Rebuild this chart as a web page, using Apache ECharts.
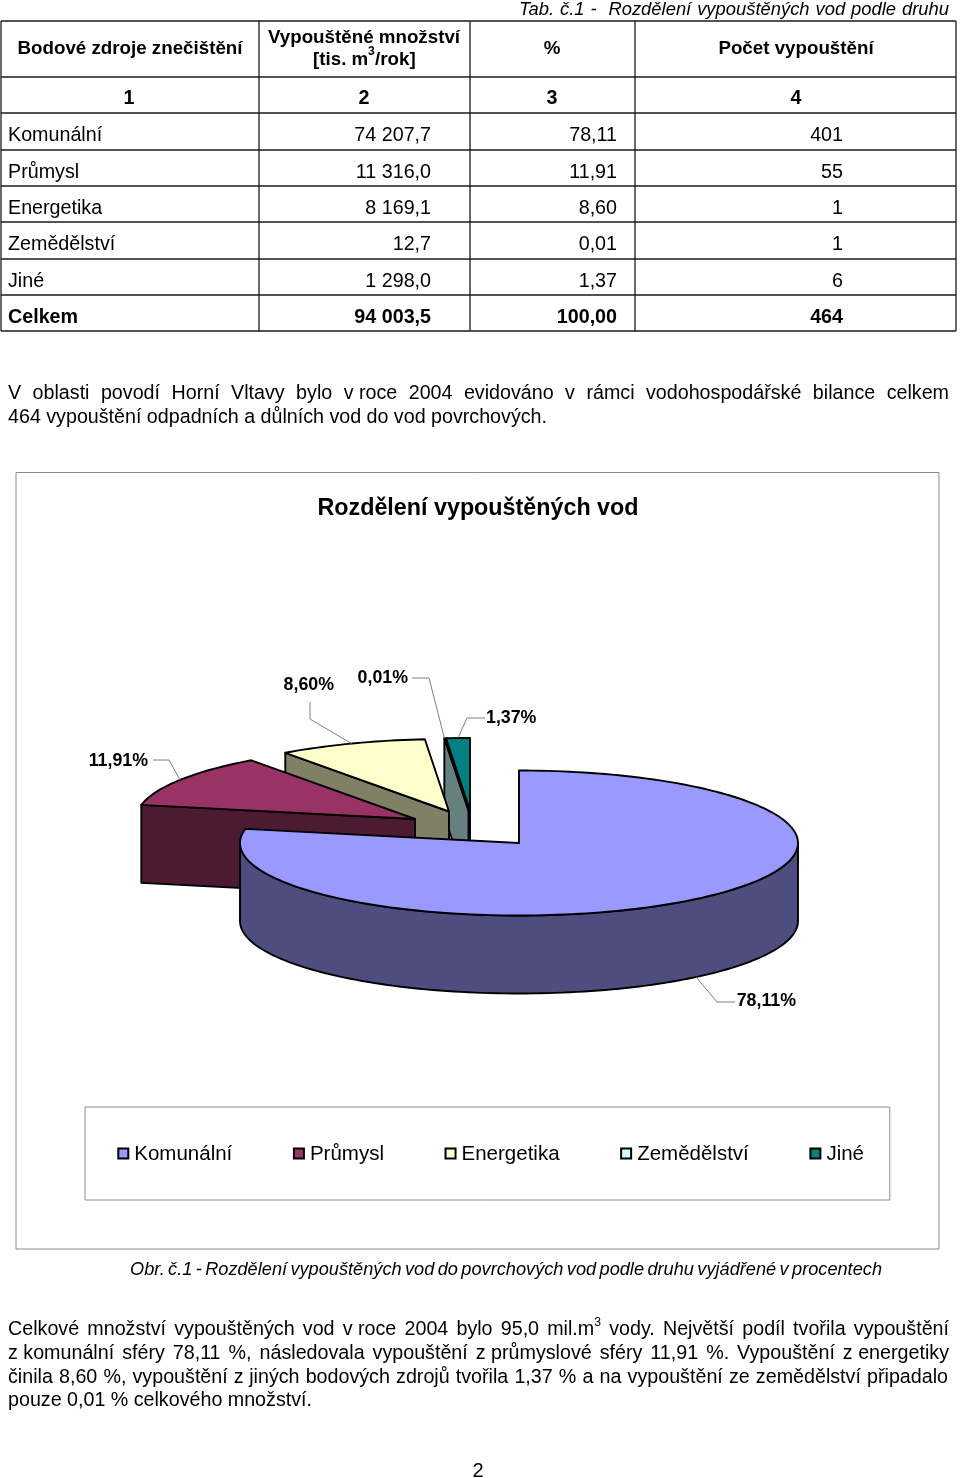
<!DOCTYPE html>
<html><head><meta charset="utf-8">
<style>html,body{margin:0;padding:0;background:#fff}#c{width:960px;height:1478px}</style>
<script src="https://cdn.jsdelivr.net/npm/echarts@6/dist/echarts.min.js"></script>
</head><body><div id="c"></div>
<script>
// ---- data ----
const categories = ['Komunální', 'Průmysl', 'Energetika', 'Zemědělství', 'Jiné'];
const amounts = ['74 207,7', '11 316,0', '8 169,1', '12,7', '1 298,0'];
const percents = [78.11, 11.91, 8.60, 0.01, 1.37];
const counts = [401, 55, 1, 1, 6];
const totals = ['Celkem', '94 003,5', '100,00', '464'];
const headers = ['Bodové zdroje znečištění', 'Vypouštěné množství', '%', 'Počet vypouštění'];
const columnNumbers = ['1', '2', '3', '4'];
const chartTitle = 'Rozdělení vypouštěných vod';
const tableCaption = 'Tab. č.1 -  Rozdělení vypouštěných vod podle druhu';
const figureCaption = 'Obr. č.1 - Rozdělení vypouštěných vod do povrchových vod podle druhu vyjádřené v procentech';
const para1 = ['V oblasti povodí Horní Vltavy bylo v\u00a0roce 2004 evidováno v rámci vodohospodářské bilance celkem',
  '464 vypouštění odpadních a důlních vod do vod povrchových.'];
const para2 = ['Celkové množství vypouštěných vod v\u00a0roce 2004 bylo 95,0 mil.m^3 vody. Největší podíl tvořila vypouštění',
  'z\u00a0komunální sféry 78,11 %, následovala vypouštění z\u00a0průmyslové sféry 11,91 %. Vypouštění z\u00a0energetiky',
  'činila 8,60 %, vypouštění z\u00a0jiných bodových zdrojů tvořila 1,37 % a na vypouštění ze zemědělství připadalo',
  'pouze 0,01 % celkového množství.'];

// ---- style / layout ----
const FONT = '"Liberation Sans", Arial, sans-serif';
const topColors = ['#9999FF', '#993366', '#FFFFCC', '#CCFFFF', '#008080'];
const sideColors = ['#4D4D80', '#4D1A33', '#808066', '#668080', '#004040'];
const PIE = { cx: 519, cy: 842.5, rx: 279, ry: 72.5, depth: 78 };
const explode = [[0, 0.5], [-104, -23.5], [-70, -31], [-50.5, -32], [-49, -32]];
// label: [text x, text y, align, elbow points from the text towards the slice]
const labelLayout = [
  [796, 1001, 'right', [[735, 1002], [717, 1002]], true],
  [148, 761, 'right', [[153, 760], [169, 760]]],
  [334, 685, 'right', [[310, 702], [310, 719]]],
  [408, 678, 'right', [[412, 678], [429, 678]]],
  [486, 718, 'left', [[485, 718], [467, 718]]]
];
const TEXT_DY = 2;
const ctx = document.createElement('canvas').getContext('2d');
function fontStr(size, o) { o = o || {}; return (o.italic ? 'italic ' : '') + (o.bold ? 'bold ' : '') + size + 'px ' + FONT; }
function width(s, size, o) { ctx.font = fontStr(size, o); return ctx.measureText(s).width; }
function T(text, x, y, size, o) {
  o = o || {};
  return { type: 'text', x: x, y: y + TEXT_DY, z: 10, style: {
    text: text, fill: '#000', fontSize: size, fontFamily: FONT,
    fontWeight: o.bold ? 'bold' : 'normal', fontStyle: o.italic ? 'italic' : 'normal',
    align: o.align || 'left', textAlign: o.align || 'left',
    verticalAlign: 'middle', textVerticalAlign: 'middle' } };
}
function L(x1, y1, x2, y2, color, w) {
  return { type: 'line', z: 5, shape: { x1, y1, x2, y2 }, style: { stroke: color || '#1a1a1a', lineWidth: w || 1.3 } };
}
// one line of justified text; x2 null = natural word spacing
function textLine(line, x1, x2, y, size, o) {
  const toks = line.split(' ');
  const w = toks.map(t => {
    const p = t.split('^');
    return width(p[0], size, o) + (p[1] ? width(p[1], size * 0.62, o) : 0);
  });
  const sum = w.reduce((a, b) => a + b, 0);
  const gap = x2 == null ? width(' ', size, o) : (x2 - x1 - sum) / (toks.length - 1);
  const out = []; let x = x1;
  toks.forEach((t, i) => {
    const p = t.split('^');
    out.push(T(p[0], x, y, size, o));
    if (p[1]) out.push(T(p[1], x + width(p[0], size, o), y - 7, size * 0.62, o));
    x += w[i] + gap;
  });
  return out;
}

// ---- page graphics: table and paragraphs ----
const g = [];
const rowY = [21, 77, 113, 150, 186, 222, 259, 295, 331];
const colX = [1, 259, 470, 635, 956];
rowY.forEach(y => g.push(L(colX[0], y, colX[4], y)));
colX.forEach(x => g.push(L(x, rowY[0], x, rowY[8])));
const S = 19.7, HB = 18.75;
g.push(...textLine(tableCaption, 519, 949, 8, 18.4, { italic: true }));
g.push(T(headers[0], 130, 47, HB, { bold: true, align: 'center' }));
g.push(T(headers[1], 364, 36, HB, { bold: true, align: 'center' }));
g.push(T('[tis. m', 313, 58, HB, { bold: true }));
g.push(T('3', 368, 50, 12, { bold: true }));
g.push(T('/rok]', 375, 58, HB, { bold: true }));
g.push(T(headers[2], 552, 47, HB, { bold: true, align: 'center' }));
g.push(T(headers[3], 796, 47, HB, { bold: true, align: 'center' }));
const colC = [129, 364, 552, 796];
columnNumbers.forEach((n, i) => g.push(T(n, colC[i], 97, S, { bold: true, align: 'center' })));
const rowC = [134, 171, 207, 243, 280, 316];
categories.forEach((c, i) => {
  g.push(T(c, 8, rowC[i], S));
  g.push(T(amounts[i], 431, rowC[i], S, { align: 'right' }));
  g.push(T(percents[i].toFixed(2).replace('.', ','), 617, rowC[i], S, { align: 'right' }));
  g.push(T(String(counts[i]), 843, rowC[i], S, { align: 'right' }));
});
g.push(T(totals[0], 8, rowC[5], S, { bold: true }));
g.push(T(totals[1], 431, rowC[5], S, { bold: true, align: 'right' }));
g.push(T(totals[2], 617, rowC[5], S, { bold: true, align: 'right' }));
g.push(T(totals[3], 843, rowC[5], S, { bold: true, align: 'right' }));

g.push(...textLine(para1[0], 8, 949, 392, S));
g.push(...textLine(para1[1], 8, 547, 416, S));
g.push({ type: 'rect', z: 1, shape: { x: 16, y: 472.5, width: 923, height: 776.5 }, style: { fill: 'none', stroke: '#8c8c8c', lineWidth: 1 } });
g.push(...textLine(figureCaption, 130, 882, 1268, 18.2, { italic: true }));
g.push(...textLine(para2[0], 8, 949, 1328, S));
g.push(...textLine(para2[1], 8, 949, 1352, S));
g.push(...textLine(para2[2], 8, 948, 1376, S));
g.push(...textLine(para2[3], 8, 312, 1399, S));
g.push(T('2', 478, 1469, 20, { align: 'center' }));

// ---- 3D pie through a custom series ----
const total = percents.reduce((a, b) => a + b, 0);
const startAngle = []; let acc = 0;
percents.forEach(p => { startAngle.push(acc); acc += p / total * 360; });
function pt(c, deg, dy) {
  const r = deg * Math.PI / 180;
  return [c[0] + PIE.rx * Math.sin(r), c[1] - PIE.ry * Math.cos(r) + (dy || 0)];
}
function arc(c, a, b, dy) {
  const n = Math.max(2, Math.ceil(Math.abs(b - a) / 1.5)), out = [];
  for (let k = 0; k <= n; k++) out.push(pt(c, a + (b - a) * k / n, dy));
  return out;
}
function poly(points, fill) {
  return { type: 'polygon', shape: { points }, style: { fill, stroke: '#000', lineWidth: 1.9, lineJoin: 'round' } };
}
function renderSlice(params, api) {
  const i = params.seriesIndex;
  const a0 = startAngle[i], a1 = a0 + api.value(0) / total * 360, mid = (a0 + a1) / 2;
  const c = [PIE.cx + explode[i][0], PIE.cy + explode[i][1]], d = PIE.depth;
  const ch = [];
  const face = deg => { const o = pt(c, deg); return [c, o, [o[0], o[1] + d], [c[0], c[1] + d]]; };
  if (Math.sin(a0 * Math.PI / 180) < -1e-6) ch.push(poly(face(a0), sideColors[i]));
  if (Math.sin(a1 * Math.PI / 180) > 1e-6) ch.push(poly(face(a1), sideColors[i]));
  const w0 = Math.max(a0, 90), w1 = Math.min(a1, 270);
  if (w1 > w0) ch.push(poly(arc(c, w0, w1).concat(arc(c, w1, w0, d)), sideColors[i]));
  ch.push(poly([c].concat(arc(c, a0, a1)), topColors[i]));
  // leader line and data label, anchored on the slice's mid-angle rim point
  const lay = labelLayout[i];
  const anchor = pt(c, mid, lay[4] ? d : 0);
  ch.push({ type: 'polyline', shape: { points: lay[3].concat([anchor]) }, z2: 20,
    style: { fill: 'none', stroke: '#808080', lineWidth: 1 } });
  ch.push({ type: 'text', x: lay[0], y: lay[1], z2: 21, style: {
    text: api.value(0).toFixed(2).replace('.', ',') + '%', fill: '#000', fontSize: 17.8, fontFamily: FONT, fontWeight: 'bold',
    align: lay[2], textAlign: lay[2], verticalAlign: 'middle', textVerticalAlign: 'middle' } });
  return { type: 'group', children: ch };
}

const chart = echarts.init(document.getElementById('c'), null, { renderer: 'canvas' });
chart.setOption({
  animation: false,
  backgroundColor: '#fff',
  title: { text: chartTitle, left: 478, top: 497, textAlign: 'center', padding: 0,
    textStyle: { fontFamily: FONT, fontWeight: 'bold', fontSize: 23.3, color: '#000' } },
  legend: {
    data: categories, orient: 'horizontal', left: 85, top: 1107, width: 805, icon: 'rect',
    padding: [37, 25.8, 35, 32.3], itemGap: 60.6, itemWidth: 10, itemHeight: 10,
    backgroundColor: '#fff', borderColor: '#8c8c8c', borderWidth: 1,
    selectedMode: false,
    itemStyle: { borderColor: '#000', borderWidth: 2 },
    formatter: '{a|{name}}',
    textStyle: { fontFamily: FONT, fontSize: 20.5, color: '#000',
      rich: { a: { fontFamily: FONT, fontSize: 20.5, color: '#000', padding: [2, 0, 0, 1] } } }
  },
  graphic: { elements: g },
  series: categories.map((name, i) => ({
    type: 'custom', name, coordinateSystem: 'none', z: 10 - i, silent: true,
    renderItem: renderSlice, data: [[percents[i]]],
    itemStyle: { color: topColors[i], borderColor: '#000', borderWidth: 2 }
  }))
});
</script></body></html>
